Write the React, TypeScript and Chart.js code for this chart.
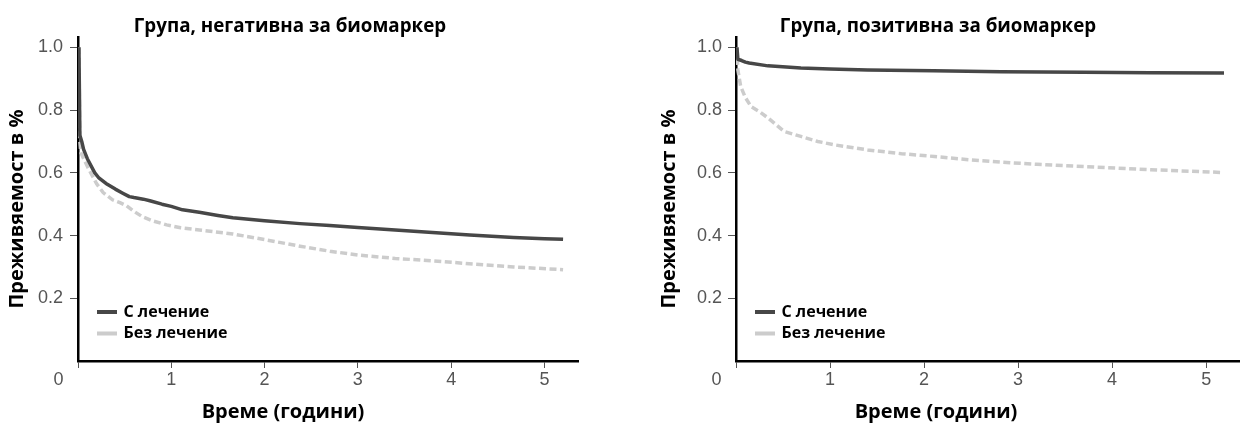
import React, { useEffect, useRef } from 'react';
import { Chart, registerables } from 'chart.js';

Chart.register(...registerables);

// ---------- data ----------
const seriesLabels = ['С лечение', 'Без лечение'];
const chartTitles = ['Група, негативна за биомаркер', 'Група, позитивна за биомаркер'];
const xAxisTitle = 'Време (години)';
const yAxisTitle = 'Преживяемост в %';
const xTickValues = [0, 1, 2, 3, 4, 5];
const yTickValues = [0.2, 0.4, 0.6, 0.8, 1.0];

const negTreatedT = [0.01, 0.02, 0.04, 0.06, 0.1, 0.18, 0.22, 0.3, 0.4, 0.48, 0.55, 0.6, 0.7, 0.77, 0.9, 1.0, 1.12, 1.3, 1.5, 1.66, 2.0, 2.38, 2.7, 3.0, 3.4, 3.8, 4.2, 4.67, 5.0, 5.2];
const negTreatedS = [1.0, 0.72, 0.7, 0.675, 0.645, 0.6, 0.585, 0.566, 0.548, 0.535, 0.524, 0.521, 0.516, 0.511, 0.5, 0.493, 0.482, 0.474, 0.464, 0.457, 0.447, 0.438, 0.432, 0.426, 0.418, 0.41, 0.402, 0.394, 0.39, 0.388];

const negUntreatedT = [0.01, 0.02, 0.03, 0.06, 0.12, 0.2, 0.27, 0.37, 0.45, 0.52, 0.6, 0.69, 0.8, 0.95, 1.1, 1.3, 1.66, 2.02, 2.38, 2.7, 3.0, 3.4, 3.82, 4.24, 4.67, 5.2];
const negUntreatedS = [1.0, 0.7, 0.665, 0.645, 0.609, 0.565, 0.537, 0.514, 0.505, 0.495, 0.477, 0.46, 0.447, 0.434, 0.425, 0.418, 0.405, 0.386, 0.366, 0.35, 0.338, 0.327, 0.319, 0.309, 0.3, 0.291];

const posTreatedT = [0.01, 0.02, 0.06, 0.1, 0.14, 0.34, 0.69, 1.0, 1.4, 2.1, 2.82, 3.7, 4.4, 5.19];
const posTreatedS = [1.0, 0.962, 0.958, 0.953, 0.95, 0.941, 0.934, 0.931, 0.928, 0.925, 0.922, 0.921, 0.919, 0.918];

const posUntreatedT = [0.01, 0.015, 0.02, 0.05, 0.1, 0.16, 0.25, 0.34, 0.42, 0.51, 0.69, 0.87, 1.05, 1.4, 1.76, 2.11, 2.47, 2.82, 3.2, 3.7, 4.41, 5.18];
const posUntreatedS = [1.0, 0.96, 0.928, 0.875, 0.84, 0.811, 0.795, 0.775, 0.755, 0.732, 0.716, 0.7, 0.689, 0.673, 0.661, 0.652, 0.642, 0.634, 0.627, 0.62, 0.61, 0.601];

// ---------- styles / layout ----------
const treatedColor = '#474747';
const untreatedColor = '#cccccc';
const axisColor = '#000000';
const tickTextColor = '#555555';
const boldFont = '"Open Sans", "Noto Sans", sans-serif';
const tickFont = '"Liberation Sans", Arial, sans-serif';
const X_MAX = 5.36;
const Y_MAX = 1.033;

const panels = [
  { left: 0, yAxisWidth: 78, padRight: 42, titleX: 290, xTitleX: 283, yTitleX: 17, tickPad: 7,
    title: chartTitles[0], tT: negTreatedT, tS: negTreatedS, uT: negUntreatedT, uS: negUntreatedS },
  { left: 620, yAxisWidth: 116, padRight: 0, titleX: 318, xTitleX: 316, yTitleX: 49, tickPad: 6,
    title: chartTitles[1], tT: posTreatedT, tS: posTreatedS, uT: posUntreatedT, uS: posUntreatedS },
];

const toPoints = (t: number[], s: number[]) => t.map((x, i) => ({ x, y: s[i] }));

const panelTextPlugin = {
  id: 'panelText',
  afterDraw(chart: any, _args: any, opts: any) {
    const { ctx, chartArea, scales } = chart;
    ctx.save();
    ctx.fillStyle = '#000';
    // chart title
    ctx.font = `bold 18.8px ${boldFont}`;
    ctx.textAlign = 'center';
    ctx.textBaseline = 'alphabetic';
    ctx.fillText(opts.title, opts.titleX, 32);
    // x axis title
    ctx.font = `bold 20px ${boldFont}`;
    ctx.fillText(xAxisTitle, opts.xTitleX, 418);
    // y axis title
    ctx.save();
    ctx.translate(opts.yTitleX, 209);
    ctx.rotate(-Math.PI / 2);
    ctx.textBaseline = 'middle';
    ctx.fillText(yAxisTitle, 0, 0);
    ctx.restore();
    // shifted "0" label at the origin
    ctx.font = `18px ${tickFont}`;
    ctx.fillStyle = tickTextColor;
    ctx.textBaseline = 'middle';
    ctx.fillText(String(xTickValues[0]), scales.x.getPixelForValue(xTickValues[0]) - 19.5, 380);
    // legend
    const lx = chartArea.left + 19;
    const rows = [312, 333.5];
    chart.data.datasets.forEach((ds: any, i: number) => {
      ctx.fillStyle = ds.borderColor;
      ctx.fillRect(lx, rows[i] - 2, 20, 4);
      ctx.fillStyle = '#000';
      ctx.font = `bold 16px ${boldFont}`;
      ctx.textAlign = 'left';
      ctx.fillText(ds.label, lx + 26.5, rows[i]);
    });
    ctx.restore();
  },
};

function Panel({ p }: { p: any }) {
  const ref = useRef<HTMLCanvasElement>(null);
  useEffect(() => {
    const chart = new Chart(ref.current as HTMLCanvasElement, {
      type: 'line',
      data: {
        datasets: [
          {
            label: seriesLabels[0],
            data: toPoints(p.tT, p.tS),
            borderColor: treatedColor,
            borderWidth: 3.5,
            pointRadius: 0,
            tension: 0,
            borderJoinStyle: 'round',
          },
          {
            label: seriesLabels[1],
            data: toPoints(p.uT, p.uS),
            borderColor: untreatedColor,
            borderWidth: 3.5,
            borderDash: [7, 3.5],
            pointRadius: 0,
            tension: 0,
          },
        ],
      },
      options: {
        animation: false,
        responsive: false,
        layout: { padding: { left: 0, right: p.padRight, top: 37, bottom: 0 } },
        plugins: {
          legend: { display: false },
          tooltip: { enabled: false },
          title: { display: false },
          panelText: { title: p.title, titleX: p.titleX, xTitleX: p.xTitleX, yTitleX: p.yTitleX },
        } as any,
        scales: {
          x: {
            type: 'linear',
            min: 0,
            max: X_MAX,
            afterBuildTicks: (s: any) => { s.ticks = xTickValues.map((v) => ({ value: v })); },
            afterFit: (s: any) => { s.height = 62; },
            ticks: {
              callback: (v: any) => (v === 0 ? '' : String(v)),
              color: tickTextColor,
              font: { family: tickFont, size: 18 },
              padding: 1,
              maxRotation: 0,
            },
            grid: { drawOnChartArea: false, drawTicks: true, tickLength: 7, tickColor: '#555', tickWidth: 1 },
            border: { display: true, color: axisColor, width: 2.5 },
          },
          y: {
            type: 'linear',
            min: 0,
            max: Y_MAX,
            afterBuildTicks: (s: any) => { s.ticks = yTickValues.map((v) => ({ value: v })); },
            afterFit: (s: any) => { s.width = p.yAxisWidth; },
            ticks: {
              callback: (v: any) => Number(v).toFixed(1),
              color: tickTextColor,
              font: { family: tickFont, size: 18 },
              padding: p.tickPad,
            },
            grid: { drawOnChartArea: false, drawTicks: true, tickLength: 8, tickColor: '#555', tickWidth: 1 },
            border: { display: true, color: axisColor, width: 2.5 },
          },
        },
      },
      plugins: [panelTextPlugin],
    } as any);
    return () => chart.destroy();
  }, []);
  return (
    <canvas
      ref={ref}
      width={620}
      height={423}
      style={{ position: 'absolute', left: p.left, top: 0, width: 620, height: 423 }}
    />
  );
}

export default function App() {
  return (
    <div style={{ position: 'absolute', left: 0, top: 0, width: 1240, height: 423, background: '#fff' }}>
      {panels.map((p, i) => (
        <Panel key={i} p={p} />
      ))}
    </div>
  );
}
